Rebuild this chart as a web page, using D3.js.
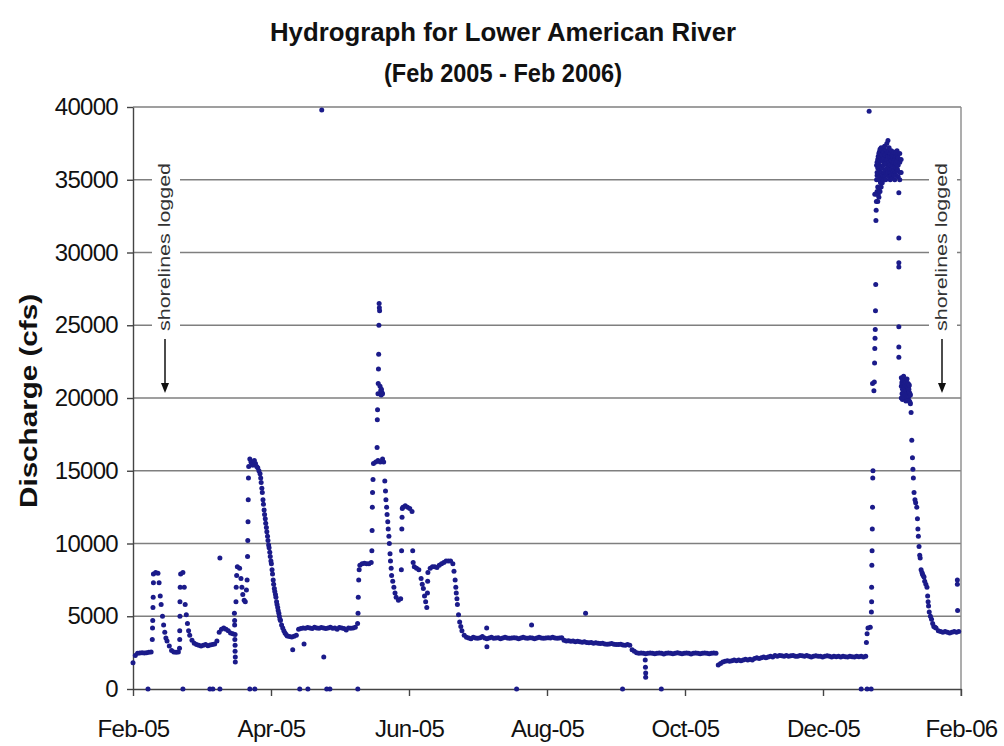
<!DOCTYPE html>
<html>
<head>
<meta charset="utf-8">
<script src="https://cdnjs.cloudflare.com/ajax/libs/d3/7.8.5/d3.min.js"></script>
<style>
  body { margin: 0; background: #fff; }
  svg { display: block; font-family: "Liberation Sans", Arial, sans-serif; }
</style>
</head>
<body>
<svg id="chart"></svg>
<script>
// daily discharge (cfs), day 0 = 1 Feb 2005
let dailyFlow = [
  1800, 2300, 2450, 2480, 2500, 2470, 2500, 2520, 2550,
  7900, 8000, 7950, 6400, 5000, 3900, 3300, 2950, 2650, 2550, 2520, 2550,
  7900, 8000, 5800, 4500, 3700, 3350, 3150, 3050, 3000, 2950, 3000, 3050, 2980, 3020, 3050, 3100,
  3300, 3900, 4100, 4200, 4100, 4000, 3850, 3800,
  3750, 8400, 8300, 7000, 6100, 6800, 15300, 15600, 15400, 15500, 15200, 14800, 13500, 12000,
  10800, 9700, 8600, 7200, 6300, 5400, 4700, 4200, 3850, 3650, 3600, 3580, 3620, 3700,
  4100, 4150, 4200, 4180, 4220, 4200, 4150, 4250, 4200, 4180, 4220, 4200, 4150, 4200, 4250,
  4180, 4200, 4100, 4220, 4200, 4150, 4050, 4200, 4180, 4200, 4250,
  4500, 8500, 8600, 8650, 8600, 8600, 8700, 15500, 15600, 15700, 15600, 15800, 14300, 12000,
  10000, 7800, 7000, 6300, 6100, 6200, 12500, 12600, 12500, 12400, 12200, 8400, 8300, 8200,
  7600, 6900, 6000, 8000, 8300, 8400, 8400, 8350, 8500, 8600, 8700, 8800, 8800, 8800, 8600,
  7500, 5800, 4600, 4000, 3700, 3550,
  3500, 3450, 3550, 3500, 3480, 3520, 3600, 3500, 3450, 3500,
  3550, 3480, 3500, 3520, 3450, 3500, 3550, 3500, 3480, 3500,
  3520, 3500, 3450, 3500, 3550, 3500, 3480, 3520, 3500, 3450,
  3500, 3550, 3500, 3480, 3500, 3520, 3500, 3550, 3500, 3480,
  3500, 3520,
  3350, 3300, 3320, 3280, 3300, 3250, 3280, 3250, 3220, 3250,
  3200, 3180, 3200, 3150, 3180, 3150, 3120, 3150, 3100, 3080,
  3100, 3120, 3080, 3050, 3050, 3080, 3020, 3000, 3050, 3000,
  2700, 2600, 2500, 2450, 2480, 2450, 2420, 2450, 2480, 2450,
  2420, 2450, 2480, 2450, 2400, 2450, 2480, 2450, 2420, 2450,
  2500, 2450, 2420, 2450, 2480, 2450, 2400, 2450, 2480, 2450,
  2420, 2450, 2480, 2450, 2420, 2450, 2480, 2450,
  1650, 1750, 1850, 1900, 1950, 1900, 1950, 2000, 1950, 2000, 1950, 2000, 2050, 2000, 2050, 2000,
  2100, 2150, 2100, 2150, 2200, 2150, 2200, 2250, 2200,
  2300, 2250, 2300, 2280, 2250, 2300, 2250, 2280, 2300, 2250,
  2250, 2300, 2280, 2250, 2300, 2250, 2200, 2250, 2280, 2250,
  2250, 2200, 2250, 2280, 2250, 2200, 2250, 2220, 2250, 2200,
  2250, 2220, 2200, 2250, 2220, 2200, 2250, 2220, 2250, 2200,
  2250, 4200, 4250,
  21000, 34000, 35500, 36000, 36500, 36200, 37000, 36500, 36000, 36300, 36000, 36200, 35500,
  21000, 21200, 21000, 20800, 19000, 14500, 12800, 11000, 9000, 7900, 7400, 7000, 5300, 4800,
  4300, 4200, 4000, 3950, 3900, 3950, 3900, 3850, 3900, 3950, 3900, 3950
]

// hourly readings on rising / falling limbs and odd readings [day, cfs]
let extraPoints = [
  [8.5, 3400], [8.6, 4200], [8.7, 4700], [8.8, 5600], [8.9, 6300], [9.0, 7300],
  [11.5, 7300], [12.4, 5800], [13.5, 4400], [14.5, 3500],
  [20.5, 2800], [20.6, 3400], [20.6, 4000], [20.7, 5000], [20.7, 6000], [20.8, 7000],
  [22.6, 7000], [23.5, 5100], [24.5, 4000],
  [38.3, 9000],
  [44.7, 5200], [44.8, 4700], [44.8, 4400], [44.9, 3400], [45.0, 3000], [45.0, 2600], [45.1, 2200], [45.1, 1850],
  [45.4, 6000], [45.5, 7000], [45.7, 7800],
  [47.6, 7600], [48.4, 6500], [49.5, 6000],
  [50.3, 7500], [50.5, 9100], [50.6, 10200], [50.7, 11500], [50.8, 13000], [50.9, 14500],
  [51.5, 15800], [52.5, 15400], [53.5, 15700], [54.5, 15300],
  [55.5, 15000], [56.3, 14500], [56.5, 14200], [56.8, 13800], [57.3, 13000], [57.5, 12700], [57.8, 12300],
  [58.3, 11700], [58.5, 11400], [58.8, 11100], [59.3, 10500], [59.5, 10200], [59.8, 9900],
  [60.3, 9400], [60.5, 9100], [60.8, 8800], [61.3, 8200], [61.5, 7900], [61.8, 7500],
  [62.3, 6900], [62.5, 6700], [62.8, 6500], [63.3, 6000], [63.5, 5800], [63.8, 5600],
  [64.3, 5200], [64.5, 5000], [64.8, 4800], [65.5, 4400], [66.5, 4000], [67.5, 3750],
  [70.4, 2700], [75.4, 3100], [84.1, 2200], [83.2, 39800],
  [99.2, 5200], [99.3, 6300], [99.5, 7500], [99.7, 8200],
  [105.3, 9500], [105.4, 10900], [105.5, 12500], [105.6, 13500], [105.8, 14400],
  [107.6, 16600], [107.7, 18500], [107.8, 19200], [108.0, 20300], [108.1, 21000], [108.2, 22000],
  [108.3, 23000], [108.4, 25000], [108.5, 26500], [108.6, 26200], [108.7, 26000], [108.9, 20800],
  [109.2, 20500], [109.4, 20200], [109.5, 20600], [109.7, 20400], [110.0, 20300],
  [110.5, 15600], [111.3, 13600], [111.5, 13000], [111.8, 12500], [112.3, 11500], [112.5, 11000],
  [112.8, 10500], [113.3, 9300], [113.5, 8800], [113.8, 8300], [114.5, 7400], [115.5, 6600],
  [118.3, 8200], [118.4, 9500], [118.5, 11000], [118.6, 11800], [118.7, 12400],
  [123.3, 9500], [123.5, 8700],
  [127.5, 7200], [128.5, 6400], [129.5, 5600], [129.8, 6600], [129.9, 7400],
  [141.5, 8100], [142.3, 7000], [142.5, 6600], [142.8, 6200], [143.5, 5100], [144.5, 4300],
  [155.9, 4200], [156.0, 2900], [175.7, 4400], [199.5, 5200],
  [225.8, 2000], [225.9, 1500], [226.0, 1100], [226.0, 800],
  [323.3, 3200], [323.6, 3800], [324.5, 39700],
  [325.5, 5300], [325.6, 6000], [325.6, 7000], [325.7, 8500], [325.8, 9500], [325.9, 11000],
  [326.0, 12500], [326.1, 14500], [326.2, 15000],
  [326.6, 20500], [326.8, 21100], [326.9, 22400], [327.0, 23400], [327.1, 24100], [327.2, 24700],
  [327.3, 26000], [327.4, 27800], [327.5, 32200], [327.6, 32900], [327.7, 33500],
  [327.8, 34000], [327.8, 35000], [327.8, 36000],
  [328.0, 34200], [328.0, 35300], [328.0, 36200],
  [328.3, 33500], [328.3, 34500], [328.3, 35800], [328.3, 36400],
  [328.5, 34000], [328.5, 35400], [328.5, 36600],
  [328.8, 33800], [328.8, 35000], [328.8, 36000], [328.8, 36800],
  [329.0, 34400], [329.0, 35600], [329.0, 36900],
  [329.3, 34200], [329.3, 35200], [329.3, 36300], [329.3, 37100],
  [329.5, 34800], [329.5, 35900], [329.5, 36800],
  [329.8, 34500], [329.8, 35500], [329.8, 36500], [329.8, 37200],
  [330.0, 35100], [330.0, 36300], [330.0, 37000],
  [330.3, 34800], [330.3, 35800], [330.3, 36700],
  [330.5, 35300], [330.5, 36400], [330.5, 37100],
  [330.8, 35000], [330.8, 36000], [330.8, 36900],
  [331.0, 35500], [331.0, 36500], [331.0, 37200],
  [331.3, 35200], [331.3, 36200], [331.3, 37300],
  [331.5, 35600], [331.5, 36700],
  [331.8, 35000], [331.8, 36100], [331.8, 37000],
  [332.0, 35700], [332.0, 36800],
  [332.3, 35400], [332.3, 36400], [332.3, 37500],
  [332.5, 35800], [332.5, 36900],
  [332.8, 35500], [332.8, 36600], [332.8, 37700],
  [333.0, 35900], [333.0, 36900],
  [333.3, 35200], [333.3, 36200], [333.3, 37200],
  [333.5, 35600], [333.5, 36600],
  [333.8, 35000], [333.8, 36000], [333.8, 36800],
  [334.0, 35500], [334.0, 36500],
  [334.3, 35300], [334.3, 36300], [334.3, 37000],
  [334.5, 35700], [334.5, 36600],
  [334.8, 35100], [334.8, 36000], [334.8, 36700],
  [335.0, 35600], [335.0, 36500],
  [335.3, 35400], [335.3, 36200], [335.3, 36900],
  [335.5, 35700], [335.5, 36400],
  [335.8, 35000], [335.8, 35900], [335.8, 36600],
  [336.0, 35500], [336.0, 36400],
  [336.3, 35300], [336.3, 36100], [336.3, 36800],
  [336.5, 35800], [336.5, 36600],
  [336.8, 35600], [336.8, 36300], [336.8, 37000],
  [337.0, 35700], [337.0, 36700],
  [337.3, 35200], [337.3, 36000], [337.3, 36500],
  [337.6, 34100], [337.6, 31000], [337.6, 29300], [337.6, 29000], [337.6, 24900], [337.6, 23500], [337.6, 22800],
  [338.0, 35000], [338.0, 36200], [338.0, 36800], [338.6, 35500], [338.6, 36400],
  [338.7, 20000], [338.7, 20800], [338.7, 21400],
  [339.0, 20300], [339.0, 21100],
  [339.2, 19900], [339.2, 20600], [339.2, 21300],
  [339.5, 20400], [339.5, 21000],
  [339.7, 20100], [339.7, 20900], [339.7, 21500],
  [340.0, 20300], [340.0, 21000],
  [340.2, 20000], [340.2, 20700], [340.2, 21200],
  [340.5, 20200], [340.5, 20900],
  [340.7, 19800], [340.7, 20500], [340.7, 21100],
  [341.0, 20300], [341.0, 20900],
  [341.2, 20000], [341.2, 20800], [341.2, 21300],
  [341.5, 20200], [341.5, 20700],
  [341.7, 19900], [341.7, 20600], [341.7, 21000],
  [342.0, 20100], [342.0, 20600],
  [342.2, 19800], [342.2, 20400], [342.2, 20900],
  [342.5, 19700], [342.5, 20300],
  [342.7, 19600], [342.7, 20200],
  [343.3, 17100], [343.6, 15900], [343.8, 15100], [344.3, 13500], [344.7, 13000], [345.5, 12500],
  [345.8, 11700], [346.2, 10500], [346.5, 9800], [346.8, 9200], [347.4, 8200], [347.8, 8000],
  [348.3, 7800], [348.7, 7700], [349.5, 7200], [350.3, 6400], [350.5, 6000], [350.7, 5700],
  [351.5, 5000], [352.5, 4500], [353.5, 4250],
  [363.4, 7500], [363.4, 7200], [363.5, 5400]
]

// days where the gauge logged 0
let zeroDays = [6.6, 22, 33.9, 35.2, 38.3, 51.5, 53.7, 73.5, 77.1, 85.4, 86.8, 99.1, 169.1, 215.8, 232.9, 321, 323.6, 325.4]

let yTicks = [0, 5000, 10000, 15000, 20000, 25000, 30000, 35000, 40000]
let xLabels = ["Feb-05", "Apr-05", "Jun-05", "Aug-05", "Oct-05", "Dec-05", "Feb-06"]

let w = 1004
let h = 746
let plotLeft = 133
let plotRight = 961
let plotTop = 107
let plotBottom = 689

let svg = d3.select("#chart").attr("width", w).attr("height", h)

let xScale = d3.scaleLinear().domain([0, 365]).range([plotLeft, plotRight])
let yScale = d3.scaleLinear().domain([0, 40000]).range([plotBottom, plotTop])

// gridlines
svg.append("g")
   .selectAll("line")
   .data(yTicks.filter(d => d > 0))
   .enter()
   .append("line")
   .attr("x1", plotLeft)
   .attr("x2", plotRight)
   .attr("y1", d => yScale(d))
   .attr("y2", d => yScale(d))
   .attr("stroke", "#7f7f7f")
   .attr("stroke-width", 1.4)

// right edge of plot area
svg.append("line")
   .attr("x1", plotRight).attr("x2", plotRight)
   .attr("y1", plotTop).attr("y2", plotBottom + 7)
   .attr("stroke", "#8a8a8a")
   .attr("stroke-width", 1.4)

// annotations (white boxes break the gridlines)
let notes = [{x: 170, box: 152, arrow: 165}, {x: 947, box: 929, arrow: 942}]
notes.forEach(n => {
  svg.append("rect")
     .attr("x", n.box).attr("y", 155)
     .attr("width", 28).attr("height", 183)
     .attr("fill", "#fff")
  svg.append("text")
     .attr("transform", "translate(" + n.x + ",247) rotate(-90)")
     .attr("text-anchor", "middle")
     .attr("font-size", 16)
     .attr("fill", "#333")
     .attr("textLength", 168)
     .attr("lengthAdjust", "spacingAndGlyphs")
     .text("shorelines logged")
  svg.append("line")
     .attr("x1", n.arrow).attr("x2", n.arrow)
     .attr("y1", 339).attr("y2", 385)
     .attr("stroke", "#111")
     .attr("stroke-width", 1.5)
  svg.append("path")
     .attr("d", "M" + (n.arrow - 4) + ",383 L" + (n.arrow + 4) + ",383 L" + n.arrow + ",393 Z")
     .attr("fill", "#111")
})

// axes
let xAxis = d3.axisBottom(xScale)
              .tickValues(d3.range(7).map(i => i * 365 / 6))
              .tickFormat((d, i) => xLabels[i])
              .tickSize(7)
              .tickSizeOuter(0)
              .tickPadding(24)

let yAxis = d3.axisLeft(yScale)
              .tickValues(yTicks)
              .tickFormat(d3.format("d"))
              .tickSize(6)
              .tickSizeOuter(0)
              .tickPadding(9)

let gx = svg.append("g")
   .attr("transform", "translate(0," + plotBottom + ")")
   .call(xAxis)
let gy = svg.append("g")
   .attr("transform", "translate(" + plotLeft + ",0)")
   .call(yAxis)

;[gx, gy].forEach(g => {
  g.select(".domain").attr("stroke", "#444").attr("stroke-width", 1.4)
  g.selectAll(".tick line").attr("stroke", "#444").attr("stroke-width", 1.4)
  g.selectAll(".tick text")
   .attr("font-size", 24)
   .attr("fill", "#111")
   .attr("font-family", "'Liberation Sans', Arial, sans-serif")
   .attr("letter-spacing", "-0.7")
})

// points
let points = dailyFlow.map((v, i) => [i, v])
                      .concat(extraPoints)
                      .concat(zeroDays.map(d => [d, 0]))

svg.append("g")
   .selectAll("circle")
   .data(points)
   .enter()
   .append("circle")
   .attr("cx", d => xScale(d[0]))
   .attr("cy", d => yScale(d[1]))
   .attr("r", 2.5)
   .attr("fill", "#1b1b8a")

// titles
svg.append("text")
   .attr("x", 503).attr("y", 41)
   .attr("text-anchor", "middle")
   .attr("font-size", 26)
   .attr("font-weight", "bold")
   .attr("fill", "#111")
   .attr("textLength", 466)
   .attr("lengthAdjust", "spacingAndGlyphs")
   .text("Hydrograph for Lower American River")

svg.append("text")
   .attr("x", 503).attr("y", 82)
   .attr("text-anchor", "middle")
   .attr("font-size", 26)
   .attr("font-weight", "bold")
   .attr("fill", "#111")
   .attr("textLength", 238)
   .attr("lengthAdjust", "spacingAndGlyphs")
   .text("(Feb 2005 - Feb 2006)")

svg.append("text")
   .attr("transform", "translate(37,401) rotate(-90)")
   .attr("text-anchor", "middle")
   .attr("font-size", 24)
   .attr("font-weight", "bold")
   .attr("fill", "#111")
   .attr("textLength", 214)
   .attr("lengthAdjust", "spacingAndGlyphs")
   .text("Discharge (cfs)")
</script>
</body>
</html>
